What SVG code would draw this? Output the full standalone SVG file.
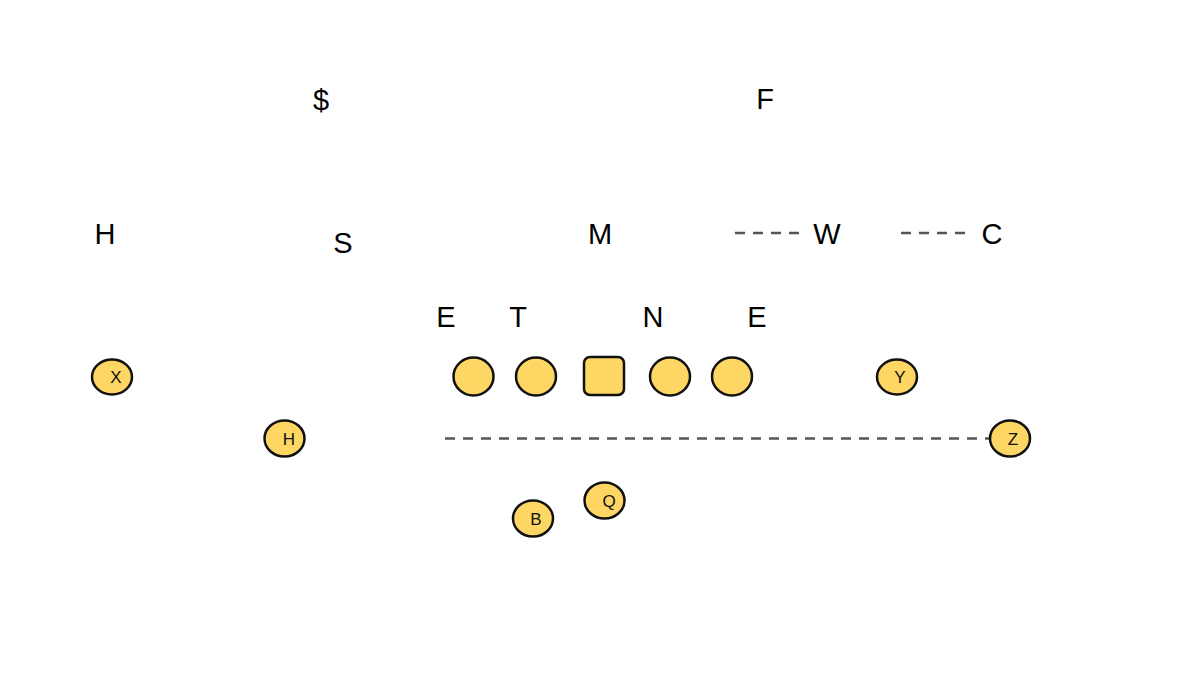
<svg xmlns="http://www.w3.org/2000/svg" width="1200" height="676" viewBox="0 0 1200 676">
<style>
.def{font-family:"Liberation Sans",Arial,sans-serif;font-size:29px;fill:#000;text-anchor:middle}
.pl{fill:#fdd664;stroke:#111;stroke-width:2.5}
.lb{font-family:"Liberation Sans",Arial,sans-serif;font-size:17px;fill:#111;text-anchor:middle}
.dash{stroke:#555;stroke-width:2.5;stroke-dasharray:10 8;fill:none}
</style>
<rect width="1200" height="676" fill="#fff"/>
<g id="connectors">
<line class="dash" x1="735" y1="233" x2="801" y2="233"/>
<line class="dash" x1="901" y1="233" x2="967" y2="233"/>
<line class="dash" x1="445" y1="438.5" x2="990" y2="438.5" stroke-dasharray="2 8 10 8"/>
</g>
<g id="def-dollar"><text class="def" x="321" y="110">$</text></g>
<g id="def-F"><text class="def" x="765" y="109">F</text></g>
<g id="def-H"><text class="def" x="105" y="244">H</text></g>
<g id="def-S"><text class="def" x="343" y="253">S</text></g>
<g id="def-M"><text class="def" x="600" y="244">M</text></g>
<g id="def-W"><text class="def" x="827" y="244">W</text></g>
<g id="def-C"><text class="def" x="992" y="244">C</text></g>
<g id="def-E1"><text class="def" x="446" y="327">E</text></g>
<g id="def-T"><text class="def" x="518" y="327">T</text></g>
<g id="def-N"><text class="def" x="653" y="327">N</text></g>
<g id="def-E2"><text class="def" x="757" y="327">E</text></g>
<g id="off-X"><ellipse class="pl" cx="112" cy="377" rx="20" ry="17.5"/><text class="lb" x="116" y="383">X</text></g>
<g id="off-H"><ellipse class="pl" cx="284.5" cy="438.5" rx="20" ry="18"/><text class="lb" x="289" y="444.5">H</text></g>
<g id="off-LT"><ellipse class="pl" cx="473.5" cy="376.5" rx="20" ry="19"/></g>
<g id="off-LG"><ellipse class="pl" cx="536" cy="376.5" rx="20" ry="19"/></g>
<g id="off-C"><rect class="pl" x="584" y="357" width="40" height="38" rx="6"/></g>
<g id="off-RG"><ellipse class="pl" cx="670" cy="376.5" rx="20" ry="19"/></g>
<g id="off-RT"><ellipse class="pl" cx="732" cy="376.5" rx="20" ry="19"/></g>
<g id="off-Y"><ellipse class="pl" cx="897" cy="377" rx="20" ry="17.5"/><text class="lb" x="900" y="383">Y</text></g>
<g id="off-Z"><ellipse class="pl" cx="1010" cy="438.5" rx="20" ry="18"/><text class="lb" x="1013" y="444.5">Z</text></g>
<g id="off-B"><ellipse class="pl" cx="533" cy="518.5" rx="20" ry="18"/><text class="lb" x="536" y="524.5">B</text></g>
<g id="off-Q"><ellipse class="pl" cx="604.5" cy="500.5" rx="20" ry="18"/><text class="lb" x="609" y="506.5">Q</text></g>
</svg>
